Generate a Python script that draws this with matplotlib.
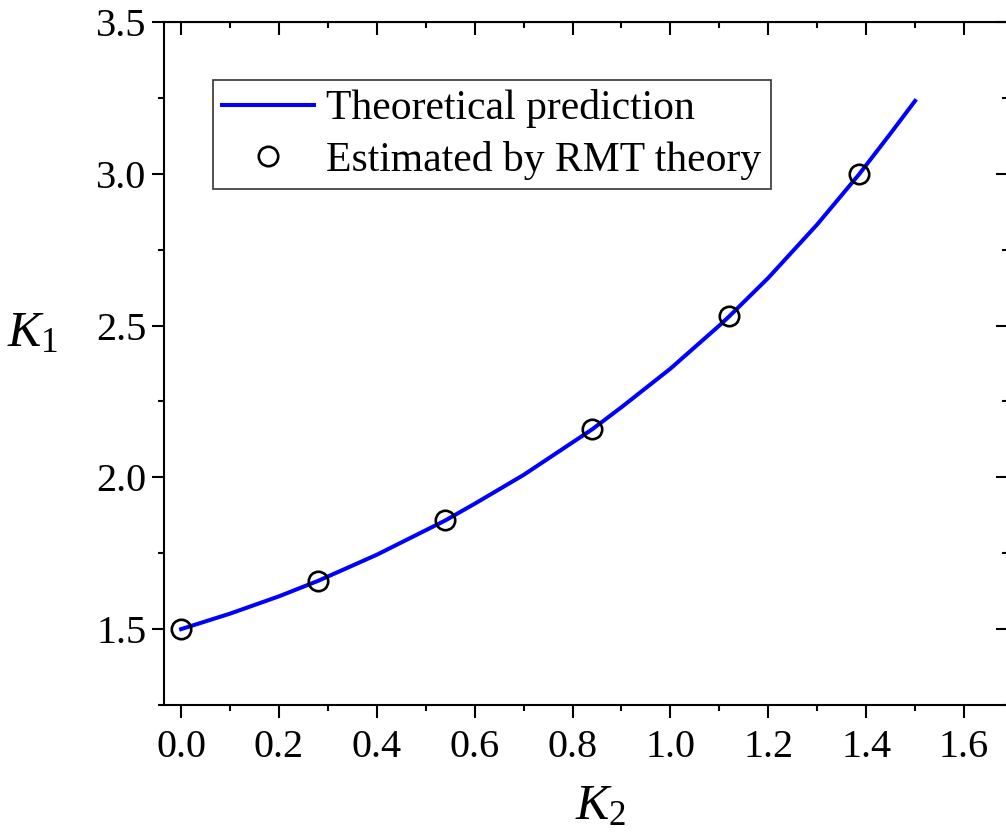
import numpy as np
import matplotlib.pyplot as plt

# theoretical curve
k2_theory = [0.0, 0.1, 0.2, 0.28, 0.4, 0.54, 0.6, 0.7, 0.84, 0.9, 1.0, 1.1, 1.12, 1.2, 1.3, 1.385, 1.45, 1.5]
k1_theory = [1.500, 1.551, 1.608, 1.659, 1.745, 1.858, 1.913, 2.008, 2.158, 2.231, 2.358, 2.500,
             2.530, 2.657, 2.833, 2.997, 3.133, 3.240]

# RMT estimates
k2_rmt = [0.0, 0.28, 0.54, 0.84, 1.12, 1.385]
k1_rmt = [1.50, 1.66, 1.86, 2.16, 2.53, 3.00]

plt.rcParams['font.family'] = ['Liberation Serif', 'DejaVu Serif']
plt.rcParams['mathtext.fontset'] = 'custom'
plt.rcParams['mathtext.rm'] = 'Liberation Serif'
plt.rcParams['mathtext.it'] = 'Liberation Serif:italic'

W, H = 1006, 840
fig = plt.figure(figsize=(W / 100, H / 100), dpi=100)
ax = fig.add_axes([164 / W, (H - 705) / H, (1008 - 164) / W, (705 - 22) / H])

ax.plot(k2_theory, k1_theory, color='#0000ff', lw=2.9, label='Theoretical prediction',
        solid_joinstyle='round', zorder=2)
ax.plot(k2_rmt, k1_rmt, 'o', ms=14, mfc='none', mec='black', mew=1.9,
        label='Estimated by RMT theory', zorder=3)

ax.set_xlim(-0.035, 1.69)
ax.set_ylim(1.25, 3.5)
ax.set_xticks(np.arange(0, 1.61, 0.2))
ax.set_xticks(np.arange(0.1, 1.7, 0.2), minor=True)
ax.set_yticks(np.arange(1.5, 3.51, 0.5))
ax.set_yticks(np.arange(1.25, 3.5, 0.5), minor=True)

for s in ax.spines.values():
    s.set_linewidth(1.5)
ax.tick_params(which='major', direction='out', length=9, width=1.5, labelsize=29)
ax.tick_params(which='minor', direction='out', length=4, width=1.5)
ax.tick_params(axis='x', pad=8)

# mirrored ticks on top / right, pointing inward
top = ax.secondary_xaxis('top')
top.set_xticks(np.arange(0, 1.61, 0.2))
top.set_xticks(np.arange(0.1, 1.7, 0.2), minor=True)
top.tick_params(which='major', direction='in', length=9, width=1.5, labeltop=False)
top.tick_params(which='minor', direction='in', length=4, width=1.5)
right = ax.secondary_yaxis('right')
right.set_yticks(np.arange(1.5, 3.51, 0.5))
right.set_yticks(np.arange(1.25, 3.5, 0.5), minor=True)
right.tick_params(which='major', direction='in', length=9, width=1.5, labelright=False)
right.tick_params(which='minor', direction='in', length=4, width=1.5)

ax.set_xlabel(r'$K_2$', fontsize=36)
ax.xaxis.set_label_coords(0.517, -0.115)
ax.set_ylabel(r'$K_1$', fontsize=36, rotation=0)
ax.yaxis.set_label_coords(-0.155, 0.51)

leg = ax.legend(loc='upper left', bbox_to_anchor=(0.058, 0.915), fontsize=30,
                frameon=True, fancybox=False, edgecolor='#333333', framealpha=1,
                handlelength=2.2, handletextpad=0.3, labelspacing=0.3,
                borderpad=0.22, borderaxespad=0)
leg.get_frame().set_linewidth(1.2)

fig.savefig('out.png', dpi=100)
